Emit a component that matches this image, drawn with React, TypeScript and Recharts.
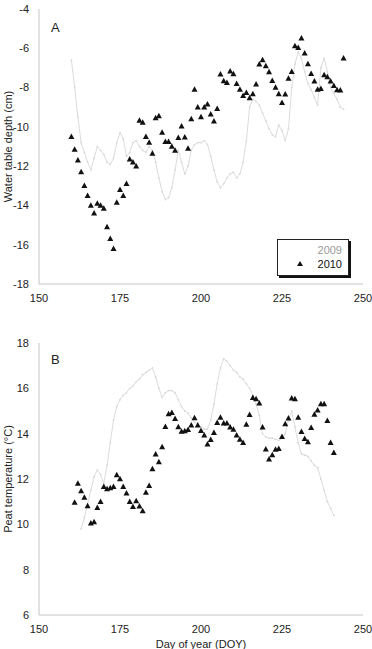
import React from "react";
import { ScatterChart, Scatter, XAxis, YAxis } from "recharts";

// Panel A: water table depth (cm)
const wtDays2009 = [160, 161, 162, 163, 164, 165, 166, 167, 168, 169, 170, 171, 172, 173, 174, 175, 176, 177, 178, 179, 180, 181, 182, 183, 184, 185, 186, 187, 188, 189, 190, 191, 192, 193, 194, 195, 196, 197, 198, 199, 200, 201, 202, 203, 204, 205, 206, 207, 208, 209, 210, 211, 212, 213, 214, 215, 216, 217, 218, 219, 220, 221, 222, 223, 224, 225, 226, 227, 228, 229, 230, 231, 232, 233, 234, 235, 236, 237, 238, 239, 240, 241, 242, 243, 244];
const wt2009 = [-6.6, -8.0, -9.5, -10.8, -11.3, -11.8, -12.2, -11.6, -11.0, -11.2, -11.4, -11.8, -11.9, -11.6, -10.8, -10.3, -10.6, -11.5, -11.3, -10.8, -10.7, -11.0, -11.2, -11.3, -11.0, -11.2, -11.8, -12.6, -13.3, -13.7, -13.6, -13.1, -12.2, -11.2, -11.8, -12.4, -12.0, -11.2, -10.9, -10.8, -10.8, -10.7, -10.9, -11.5, -12.2, -12.8, -13.1, -12.9, -12.6, -12.4, -12.3, -12.6, -12.4, -11.8, -10.7, -9.0, -8.6, -8.7, -8.9, -9.3, -9.7, -10.1, -10.4, -10.5, -9.9, -10.2, -10.7, -10.1, -8.0, -6.8, -6.2, -6.5, -7.2, -7.8, -8.1, -8.5, -8.9, -7.0, -6.5, -7.2, -8.0, -8.3, -8.6, -9.0, -9.1];

const wtDays2010 = [160, 161, 162, 163, 164, 165, 166, 167, 168, 169, 170, 171, 172, 173, 174, 175, 176, 177, 178, 179, 180, 181, 182, 183, 184, 185, 186, 187, 188, 189, 190, 191, 192, 193, 194, 195, 196, 197, 198, 199, 200, 201, 202, 203, 204, 205, 206, 207, 208, 209, 210, 211, 212, 213, 214, 215, 216, 217, 218, 219, 220, 221, 222, 223, 224, 225, 226, 227, 228, 229, 230, 231, 232, 233, 234, 235, 236, 237, 238, 239, 240, 241, 242, 243, 244];
const wt2010 = [-10.5, -11.15, -11.7, -12.3, -13.0, -13.5, -14.0, -14.4, -13.9, -14.0, -14.15, -15.1, -15.7, -16.2, -13.85, -13.2, -13.5, -12.9, -11.65, -11.8, -12.0, -9.68, -9.77, -10.5, -10.8, -11.35, -9.55, -9.45, -10.28, -10.75, -10.75, -11.0, -11.2, -10.55, -9.97, -10.53, -11.1, -9.6, -8.09, -9.0, -9.5, -9.0, -8.85, -9.36, -9.71, -9.07, -7.32, -7.66, -7.75, -7.17, -7.31, -7.8, -8.09, -8.41, -8.26, -8.53, -8.33, -7.83, -6.81, -6.6, -6.9, -7.2, -7.65, -8.0, -8.33, -8.77, -8.34, -7.53, -7.19, -5.88, -5.97, -5.49, -6.25, -6.8, -7.29, -7.68, -8.09, -8.06, -7.36, -7.46, -7.68, -7.9, -8.12, -8.14, -6.51];

// Panel B: peat temperature (°C)
const tDays2009 = [163, 164, 165, 166, 167, 168, 169, 170, 171, 172, 173, 174, 175, 176, 177, 178, 179, 180, 181, 182, 183, 184, 185, 186, 187, 188, 189, 190, 191, 192, 193, 194, 195, 196, 197, 198, 199, 200, 201, 202, 203, 204, 205, 206, 207, 208, 209, 210, 211, 212, 213, 214, 215, 216, 217, 218, 219, 220, 221, 222, 223, 224, 225, 226, 227, 228, 229, 230, 231, 232, 233, 234, 235, 236, 237, 238, 239, 240, 241];
const t2009 = [9.8, 10.3, 10.9, 11.5, 12.1, 12.4, 12.2, 11.8, 12.6, 13.6, 14.6, 15.2, 15.5, 15.7, 15.8, 16.0, 16.1, 16.3, 16.4, 16.6, 16.7, 16.8, 16.9, 16.5, 16.0, 15.6, 15.8, 15.9, 15.9, 15.8, 15.5, 15.2, 15.0, 14.9, 14.7, 14.5, 14.4, 14.3, 14.2, 14.2, 14.6, 15.3, 16.2, 16.9, 17.3, 17.2, 17.0, 16.8, 16.7, 16.5, 16.4, 16.2, 16.0, 15.7, 15.3, 14.8, 14.0, 13.85, 13.8, 13.8, 13.75, 13.7, 13.8, 14.0, 14.6, 15.0, 14.3, 13.6, 13.1, 13.05, 13.0, 12.8, 12.6, 12.5, 12.0, 11.5, 11.0, 10.7, 10.4];

const tDays2010 = [161, 162, 163, 164, 165, 166, 167, 168, 169, 170, 171, 172, 173, 174, 175, 176, 177, 178, 179, 180, 181, 182, 183, 184, 185, 186, 187, 188, 189, 190, 191, 192, 193, 194, 195, 196, 197, 198, 199, 200, 201, 202, 203, 204, 205, 206, 207, 208, 209, 210, 211, 212, 213, 214, 215, 216, 217, 218, 219, 220, 221, 222, 223, 224, 225, 226, 227, 228, 229, 230, 231, 232, 233, 234, 235, 236, 237, 238, 239, 240, 241];
const t2010 = [10.96, 11.8, 11.47, 11.19, 10.81, 10.05, 10.1, 10.73, 11.0, 11.66, 11.56, 11.6, 11.66, 12.18, 12.0, 11.66, 11.37, 11.0, 10.78, 11.03, 10.8, 10.59, 11.41, 11.7, 12.44, 13.09, 12.75, 13.41, 14.31, 14.87, 14.93, 14.66, 14.3, 14.1, 14.12, 14.18, 14.37, 14.69, 14.37, 14.13, 13.93, 13.54, 13.73, 14.04, 14.48, 14.72, 14.46, 14.46, 14.28, 14.19, 13.93, 13.75, 13.6, 14.41, 14.84, 15.59, 15.53, 15.34, 14.28, 13.32, 12.87, 13.06, 13.3, 13.34, 13.87, 14.43, 14.68, 15.56, 15.53, 14.72, 14.09, 13.78, 13.63, 14.26, 14.85, 15.04, 15.31, 15.31, 14.57, 13.6, 13.16];

const xTicks = [150, 175, 200, 225, 250];
const wtTicks = [-18, -16, -14, -12, -10, -8, -6, -4];
const tTicks = [6, 8, 10, 12, 14, 16, 18];

const toPoints = (days: number[], vals: number[]) =>
  days.map((d, i) => ({ day: d, v: vals[i] }));

const FONT = "'Liberation Sans', Arial, sans-serif";
const tickStyle = { fontSize: 11, fill: "#222", fontFamily: FONT };

const Triangle = (p: any) => {
  const { cx, cy } = p;
  return (
    <polygon
      points={`${cx},${cy - 3.2} ${cx - 3},${cy + 2.3} ${cx + 3},${cy + 2.3}`}
      fill="#111"
    />
  );
};

const Dot = (p: any) => <circle cx={p.cx} cy={p.cy} r={0.9} fill="#d8d8d8" />;

function Panel({
  height,
  top,
  line,
  tri,
  domain,
  yTicks,
  yTitle,
  xTitle,
  xHeight,
}: {
  height: number;
  top: number;
  line: { day: number; v: number }[];
  tri: { day: number; v: number }[];
  domain: [number, number];
  yTicks: number[];
  yTitle: string;
  xTitle?: string;
  xHeight: number;
}) {
  return (
    <ScatterChart
      width={372}
      height={height}
      margin={{ top, right: 9, bottom: 0, left: 0 }}
    >
      <XAxis
        type="number"
        dataKey="day"
        domain={[150, 250]}
        ticks={xTicks}
        allowDataOverflow
        height={xHeight}
        tick={tickStyle}
        tickLine={false}
        tickSize={6}
        tickMargin={4}
        axisLine={{ stroke: "#c4c4c4" }}
        label={
          xTitle
            ? {
                value: xTitle,
                position: "insideBottom",
                offset: 5,
                style: { fontSize: 11, fill: "#222", fontFamily: FONT },
              }
            : undefined
        }
      />
      <XAxis
        xAxisId="t"
        orientation="top"
        type="number"
        domain={[150, 250]}
        ticks={xTicks}
        height={0}
        tick={false}
        mirror
        tickSize={3}
        tickLine={{ stroke: "#d6d6d6" }}
        axisLine={{ stroke: "#e4e4e4" }}
      />
      <YAxis
        type="number"
        dataKey="v"
        domain={domain}
        ticks={yTicks}
        allowDataOverflow
        width={39}
        tick={tickStyle}
        tickLine={false}
        tickSize={6}
        tickMargin={4}
        axisLine={{ stroke: "#c4c4c4" }}
        label={{
          value: yTitle,
          angle: -90,
          position: "insideLeft",
          offset: 8,
          style: { fontSize: 11, fill: "#222", fontFamily: FONT, textAnchor: "middle" },
        }}
      />
      <YAxis
        yAxisId="r"
        orientation="right"
        type="number"
        domain={domain}
        ticks={yTicks}
        width={0}
        tick={false}
        mirror
        tickSize={3}
        tickLine={{ stroke: "#d6d6d6" }}
        axisLine={{ stroke: "#e4e4e4" }}
      />
      <Scatter
        name="2009"
        data={line}
        line={{ stroke: "#dcdcdc", strokeWidth: 1 }}
        lineType="joint"
        shape={Dot}
        isAnimationActive={false}
      />
      <Scatter
        name="2010"
        data={tri}
        shape={Triangle}
        isAnimationActive={false}
      />
    </ScatterChart>
  );
}

export default function App() {
  return (
    <div
      style={{
        position: "absolute",
        left: 0,
        top: 0,
        width: 372,
        height: 649,
        overflow: "hidden",
        background: "#fff",
        fontFamily: FONT,
      }}
    >
      <div style={{ position: "absolute", left: 0, top: 0 }}>
        <Panel
          height={314}
          top={9}
          line={toPoints(wtDays2009, wt2009)}
          tri={toPoints(wtDays2010, wt2010)}
          domain={[-18, -4]}
          yTicks={wtTicks}
          yTitle="Water table depth (cm)"
          xHeight={30}
        />
      </div>
      <div style={{ position: "absolute", left: 0, top: 330 }}>
        <Panel
          height={323}
          top={13}
          line={toPoints(tDays2009, t2009)}
          tri={toPoints(tDays2010, t2010)}
          domain={[6, 18]}
          yTicks={tTicks}
          yTitle="Peat temperature (°C)"
          xTitle="Day of year (DOY)"
          xHeight={38}
        />
      </div>

      <div style={{ position: "absolute", left: 51, top: 20, fontSize: 13, color: "#222" }}>A</div>
      <div style={{ position: "absolute", left: 51, top: 352, fontSize: 13, color: "#222" }}>B</div>

      {/* legend */}
      <div
        style={{
          position: "absolute",
          left: 277,
          top: 239,
          width: 70,
          height: 35,
          border: "1px solid #222",
          boxShadow: "2px 2px 0 #111",
          background: "#fff",
          fontSize: 11,
        }}
      >
        <div style={{ position: "absolute", right: 6, top: 4, color: "#999" }}>2009</div>
        <div style={{ position: "absolute", left: 19, top: 21, width: 0, height: 0, borderLeft: "3px solid transparent", borderRight: "3px solid transparent", borderBottom: "5.5px solid #111" }} />
        <div style={{ position: "absolute", right: 6, top: 18, color: "#111" }}>2010</div>
      </div>
    </div>
  );
}
